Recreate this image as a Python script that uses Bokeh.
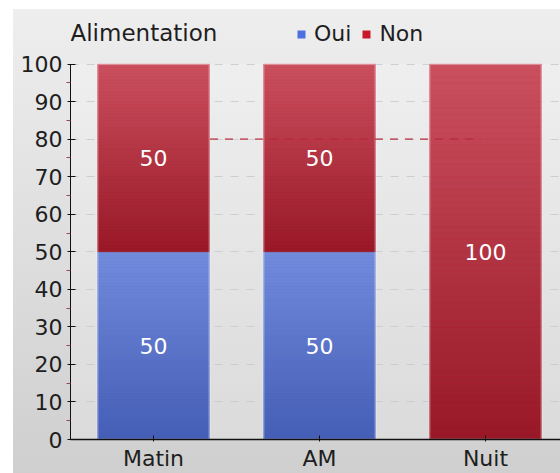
import numpy as np
from bokeh.plotting import figure
from bokeh.core.properties import value
from bokeh.models import (ColumnDataSource, FixedTicker, Legend, LegendItem,
                          LabelSet, Label, Range1d, BoxAnnotation)
from bokeh.embed import file_html
from bokeh.resources import INLINE

# --- data -------------------------------------------------------------
categories = ["Matin", "AM", "Nuit"]
oui = [50, 50, 0]
non = [50, 50, 100]
series_names = ["Oui", "Non"]
legend_title = "Alimentation"
target = 80                  # dashed reference level
target_span = [0.84, 2.47]   # x extent of the reference line (category units)
y_ticks = list(range(0, 101, 10))
y_minor = list(range(5, 100, 10))

# --- styling ----------------------------------------------------------
FONT = "DejaVu Sans"
BAR_W = 0.675
BLUE_TOP, BLUE_BOT = (0x72, 0x8b, 0xdb), (0x45, 0x5e, 0xb6)
RED_TOP, RED_BOT = (0xcb, 0x50, 0x5f), (0x98, 0x18, 0x27)
BLUE_KEY, RED_KEY = "#4d6fe0", "#c8182a"
TEXT = "#1e1e1e"

xs = [i + 0.5 for i in range(len(categories))]

# the frame reaches above 100 so the header row sits inside it
p = figure(width=547, height=464,
           x_range=Range1d(0, 2.952), y_range=Range1d(0, 113.2),
           output_backend="svg", toolbar_location=None,
           min_border_left=57, min_border_right=0,
           min_border_top=5, min_border_bottom=31)
p.margin = (9, 0, 0, 13)
p.styles = {"background": "linear-gradient(to bottom, #eeeeee, #cfcfcf)"}
p.border_fill_alpha = 0
p.background_fill_alpha = 0
p.outline_line_color = None

# slightly lighter plotting area
p.add_layout(BoxAnnotation(bottom=0, top=max(y_ticks), fill_color="white",
                           fill_alpha=0.22, line_color=None, level="underlay"))


def to_hex(c):
    return "#%02x%02x%02x" % tuple(int(round(v)) for v in c)


def gradient_bar(x, bottom, top, c_top, c_bot, n=60):
    """Stack thin slices to shade a bar segment from c_bot to c_top."""
    if top <= bottom:
        return
    edges = np.linspace(bottom, top, n + 1)
    frac = (np.arange(n) + 0.5) / n
    cols = [to_hex([b + (t - b) * f for t, b in zip(c_top, c_bot)]) for f in frac]
    p.quad(left=x - BAR_W / 2, right=x + BAR_W / 2,
           bottom=edges[:-1], top=edges[1:],
           fill_color=cols, line_color=cols, line_width=0.6)


# solid base bars (also used as legend keys)
src = ColumnDataSource(dict(x=xs, oui=oui, non=non,
                            tot=[a + b for a, b in zip(oui, non)]))
r_oui = p.vbar(x="x", bottom=0, top="oui", width=BAR_W, source=src,
               fill_color=BLUE_KEY, line_color=None)
r_non = p.vbar(x="x", bottom="oui", top="tot", width=BAR_W, source=src,
               fill_color=RED_KEY, line_color=None)

for x, a, b in zip(xs, oui, non):
    gradient_bar(x, 0, a, BLUE_TOP, BLUE_BOT)
    gradient_bar(x, a, a + b, RED_TOP, RED_BOT)

# soft light rim around each full bar
p.vbar(x="x", bottom=0, top="tot", width=BAR_W, source=src,
       fill_alpha=0, line_color="white", line_alpha=0.35, line_width=2)

# reference line
p.line(x=target_span, y=[target, target], line_color="#b8283a",
       line_alpha=0.7, line_width=1.6, line_dash="8 7")

# value labels centred in each segment
lab_x, lab_y, lab_t = [], [], []
for x, a, b in zip(xs, oui, non):
    if a:
        lab_x.append(x); lab_y.append(a / 2); lab_t.append(str(a))
    if b:
        lab_x.append(x); lab_y.append(a + b / 2); lab_t.append(str(b))
labels = LabelSet(x="x", y="y", text="t",
                  source=ColumnDataSource(dict(x=lab_x, y=lab_y, t=lab_t)),
                  text_color="white", text_font=value(FONT),
                  text_font_size=value("22px"),
                  text_align="center", text_baseline="middle")
p.add_layout(labels)

# axes
p.yaxis.ticker = FixedTicker(ticks=y_ticks, minor_ticks=y_minor)
p.yaxis.bounds = (0, max(y_ticks))
p.yaxis.major_label_text_font = FONT
p.yaxis.major_label_text_font_size = "22px"
p.yaxis.major_label_text_color = TEXT
p.yaxis.major_label_standoff = 4
p.yaxis.major_tick_in = 5
p.yaxis.major_tick_out = 3
p.yaxis.minor_tick_in = 0
p.yaxis.minor_tick_out = 4
p.yaxis.minor_tick_line_color = "#9a4452"
p.yaxis.axis_line_color = "#111111"
p.yaxis.major_tick_line_color = "#111111"

p.xaxis.ticker = FixedTicker(ticks=xs)
p.xaxis.major_label_overrides = {x: c for x, c in zip(xs, categories)}
p.xaxis.major_label_text_font = FONT
p.xaxis.major_label_text_font_size = "22px"
p.xaxis.major_label_text_color = TEXT
p.xaxis.major_label_standoff = 4
p.xaxis.major_tick_in = 4
p.xaxis.major_tick_out = 2
p.xaxis.minor_tick_line_color = None
p.xaxis.axis_line_color = "#111111"
p.xaxis.axis_line_width = 1.5
p.xaxis.major_tick_line_color = "#111111"

p.xgrid.visible = False
p.ygrid.ticker = FixedTicker(ticks=y_ticks)
p.ygrid.grid_line_color = "#b4b8c6"
p.ygrid.grid_line_alpha = 0.8
p.ygrid.grid_line_dash = "8 8"

# header row: title and series key
p.add_layout(Label(x=0, y=108.3, text=legend_title, text_font=FONT,
                   text_font_size="23px", text_color=TEXT,
                   text_align="left", text_baseline="middle"))
legend = Legend(items=[LegendItem(label=series_names[0], renderers=[r_oui]),
                       LegendItem(label=series_names[1], renderers=[r_non])],
                orientation="horizontal", location=(226, 393),
                label_text_font=FONT, label_text_font_size="22px",
                label_text_color=TEXT, label_standoff=8,
                glyph_width=10, glyph_height=10, spacing=10,
                padding=0, margin=0,
                background_fill_alpha=0, border_line_alpha=0)
p.add_layout(legend)

open("out.html", "w").write(file_html(p, INLINE))
